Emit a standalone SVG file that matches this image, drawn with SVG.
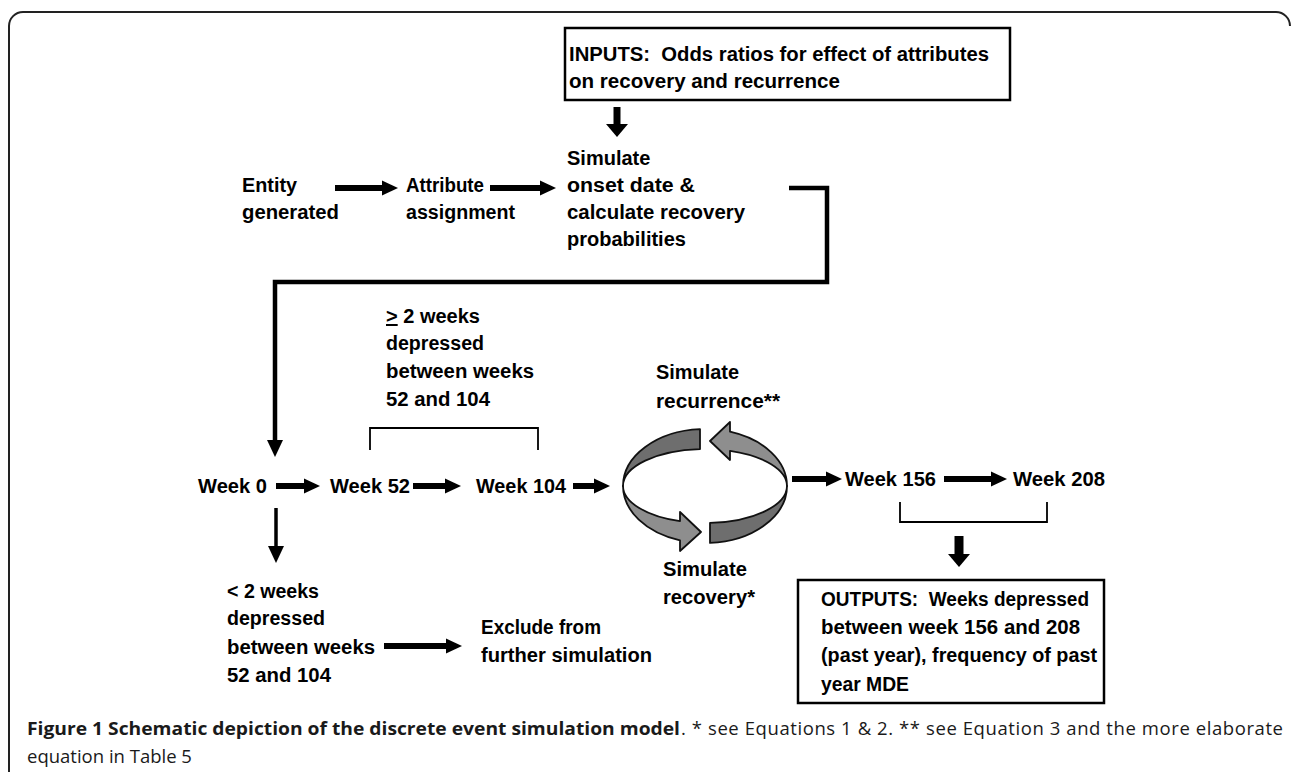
<svg xmlns="http://www.w3.org/2000/svg" width="1292" height="772" viewBox="0 0 1292 772">
<style>
  .t { font-family: "Liberation Sans", Arial, sans-serif; font-weight: bold; font-size: 20px; fill: #000; }
  .cap { font-family: "Open Sans", "Liberation Sans", sans-serif; font-size: 18.5px; fill: #1a1a1a; }
  .capb { font-weight: bold; }
  .box { fill: #fff; stroke: #000; stroke-width: 2.5; }
  .shaft { stroke: #000; fill: none; }
  .brk { stroke: #000; fill: none; stroke-width: 1.8; }
  .dark { fill: #6e6e6e; stroke: #111; stroke-width: 1.8; stroke-linejoin: round; }
  .light { fill: #8e8e8e; stroke: #111; stroke-width: 1.8; stroke-linejoin: round; }
</style>
<defs>
  <marker id="m1" markerUnits="userSpaceOnUse" markerWidth="16" markerHeight="15" refX="0" refY="7.5" orient="auto" overflow="visible">
    <path d="M0,0 L16,7.5 L0,15 Z" fill="#000"/>
  </marker>
  <marker id="m2" markerUnits="userSpaceOnUse" markerWidth="17" markerHeight="16" refX="0" refY="8" orient="auto" overflow="visible">
    <path d="M0,0 L17,8 L0,16 Z" fill="#000"/>
  </marker>
  <marker id="m3" markerUnits="userSpaceOnUse" markerWidth="13" markerHeight="22" refX="0" refY="11" orient="auto" overflow="visible">
    <path d="M0,0 L13,11 L0,22 Z" fill="#000"/>
  </marker>
</defs>
<rect width="1292" height="772" fill="#fff"/>

<!-- frame -->
<path d="M9,772 L9,26 A14,14 0 0 1 23,12 L1276,12 A14,14 0 0 1 1290,26" fill="none" stroke="#222" stroke-width="2"/>

<g id="inputs">
  <rect class="box" x="565" y="28" width="445" height="72"/>
  <text class="t" x="569" y="61" xml:space="preserve" textLength="420" lengthAdjust="spacingAndGlyphs">INPUTS:  Odds ratios for effect of attributes</text>
  <text class="t" x="569" y="88" textLength="271" lengthAdjust="spacingAndGlyphs">on recovery and recurrence</text>
</g>

<g id="entity">
  <text class="t" x="242" y="192" textLength="55" lengthAdjust="spacingAndGlyphs">Entity</text>
  <text class="t" x="242" y="219" textLength="97" lengthAdjust="spacingAndGlyphs">generated</text>
</g>

<g id="attribute">
  <text class="t" x="406" y="192" textLength="78" lengthAdjust="spacingAndGlyphs">Attribute</text>
  <text class="t" x="406" y="219" textLength="109" lengthAdjust="spacingAndGlyphs">assignment</text>
</g>

<g id="simulate-onset">
  <text class="t" x="567" y="165">Simulate</text>
  <text class="t" x="567" y="192" textLength="128" lengthAdjust="spacingAndGlyphs">onset date &amp;</text>
  <text class="t" x="567" y="219" textLength="178" lengthAdjust="spacingAndGlyphs">calculate recovery</text>
  <text class="t" x="567" y="246">probabilities</text>
</g>

<g id="week0"><text class="t" x="198" y="493" textLength="69" lengthAdjust="spacingAndGlyphs">Week 0</text></g>
<g id="week52"><text class="t" x="330" y="493" textLength="80" lengthAdjust="spacingAndGlyphs">Week 52</text></g>
<g id="week104"><text class="t" x="476" y="493" textLength="90" lengthAdjust="spacingAndGlyphs">Week 104</text></g>
<g id="week156"><text class="t" x="845" y="486" textLength="91" lengthAdjust="spacingAndGlyphs">Week 156</text></g>
<g id="week208"><text class="t" x="1013" y="486" textLength="92" lengthAdjust="spacingAndGlyphs">Week 208</text></g>

<g id="ge2weeks">
  <text class="t" x="386" y="323"><tspan text-decoration="underline">&gt;</tspan> 2 weeks</text>
  <text class="t" x="386" y="350" textLength="98" lengthAdjust="spacingAndGlyphs">depressed</text>
  <text class="t" x="386" y="378" textLength="148" lengthAdjust="spacingAndGlyphs">between weeks</text>
  <text class="t" x="386" y="406" textLength="104" lengthAdjust="spacingAndGlyphs">52 and 104</text>
  <path class="brk" d="M370,450 V428 H538 V450"/>
</g>

<g id="lt2weeks">
  <text class="t" x="227" y="598" textLength="92" lengthAdjust="spacingAndGlyphs">&lt; 2 weeks</text>
  <text class="t" x="227" y="625" textLength="98" lengthAdjust="spacingAndGlyphs">depressed</text>
  <text class="t" x="227" y="654" textLength="148" lengthAdjust="spacingAndGlyphs">between weeks</text>
  <text class="t" x="227" y="682" textLength="104" lengthAdjust="spacingAndGlyphs">52 and 104</text>
</g>

<g id="exclude">
  <text class="t" x="481" y="634" textLength="120" lengthAdjust="spacingAndGlyphs">Exclude from</text>
  <text class="t" x="481" y="662" textLength="171" lengthAdjust="spacingAndGlyphs">further simulation</text>
</g>

<g id="cycle">
  <path class="dark" d="M700,429.1 A82,57 0 0 0 623,486 A82,37 0 0 1 700,449.1 Z"/>
  <path class="light" d="M623,486 A82,37 0 0 0 680,521.2 L680,512 L701,532 L680,551 L680,540.3 A82,57 0 0 1 623,486 Z"/>
  <path class="dark" d="M710,522.9 A82,37 0 0 0 787,486 A82,57 0 0 1 710,542.9 Z"/>
  <path class="light" d="M787,486 A82,57 0 0 0 730,431.7 L730,422 L710,441 L730,460 L730,450.8 A82,37 0 0 1 787,486 Z"/>
</g>

<g id="recurrence">
  <text class="t" x="656" y="379" textLength="83" lengthAdjust="spacingAndGlyphs">Simulate</text>
  <text class="t" x="656" y="408" textLength="124" lengthAdjust="spacingAndGlyphs">recurrence**</text>
</g>

<g id="recovery">
  <text class="t" x="663" y="576" textLength="84" lengthAdjust="spacingAndGlyphs">Simulate</text>
  <text class="t" x="663" y="604" textLength="92" lengthAdjust="spacingAndGlyphs">recovery*</text>
</g>

<g id="outputs">
  <path class="brk" d="M900,502 V522 H1047 V502" stroke-width="2"/>
  <rect class="box" x="798" y="580" width="306" height="123"/>
  <text class="t" x="821" y="606" xml:space="preserve" textLength="268" lengthAdjust="spacingAndGlyphs">OUTPUTS:  Weeks depressed</text>
  <text class="t" x="821" y="634" textLength="259" lengthAdjust="spacingAndGlyphs">between week 156 and 208</text>
  <text class="t" x="821" y="662" textLength="276" lengthAdjust="spacingAndGlyphs">(past year), frequency of past</text>
  <text class="t" x="821" y="691" textLength="88" lengthAdjust="spacingAndGlyphs">year MDE</text>
</g>

<g id="connectors">
  <line class="shaft" x1="335" y1="188" x2="382" y2="188" stroke-width="6" marker-end="url(#m1)"/>
  <line class="shaft" x1="490" y1="188" x2="540" y2="188" stroke-width="6" marker-end="url(#m1)"/>
  <line class="shaft" x1="617" y1="107" x2="617" y2="124" stroke-width="7" marker-end="url(#m3)"/>
  <polyline class="shaft" points="789,188 827,188 827,282 275,282 275,440" stroke-width="4.5" stroke-linejoin="miter" marker-end="url(#m2)"/>
  <line class="shaft" x1="276" y1="486" x2="304" y2="486" stroke-width="6" marker-end="url(#m1)"/>
  <line class="shaft" x1="413" y1="486" x2="445" y2="486" stroke-width="6" marker-end="url(#m1)"/>
  <line class="shaft" x1="573" y1="486" x2="594" y2="486" stroke-width="6" marker-end="url(#m1)"/>
  <line class="shaft" x1="792" y1="479" x2="826" y2="479" stroke-width="6" marker-end="url(#m1)"/>
  <line class="shaft" x1="944" y1="479" x2="991" y2="479" stroke-width="6" marker-end="url(#m1)"/>
  <line class="shaft" x1="276" y1="508" x2="276" y2="546" stroke-width="3.5" marker-end="url(#m2)"/>
  <line class="shaft" x1="384" y1="646" x2="446" y2="646" stroke-width="6" marker-end="url(#m1)"/>
  <line class="shaft" x1="959" y1="536" x2="959" y2="554" stroke-width="9" marker-end="url(#m3)"/>
</g>

<g id="caption">
  <text class="cap capb" x="27" y="735" textLength="653" lengthAdjust="spacingAndGlyphs">Figure 1 Schematic depiction of the discrete event simulation model</text>
  <text class="cap" x="681" y="735" textLength="602" lengthAdjust="spacing">. * see Equations 1 &amp; 2. ** see Equation 3 and the more elaborate</text>
  <text class="cap" x="27" y="763">equation in Table 5</text>
</g>
</svg>
